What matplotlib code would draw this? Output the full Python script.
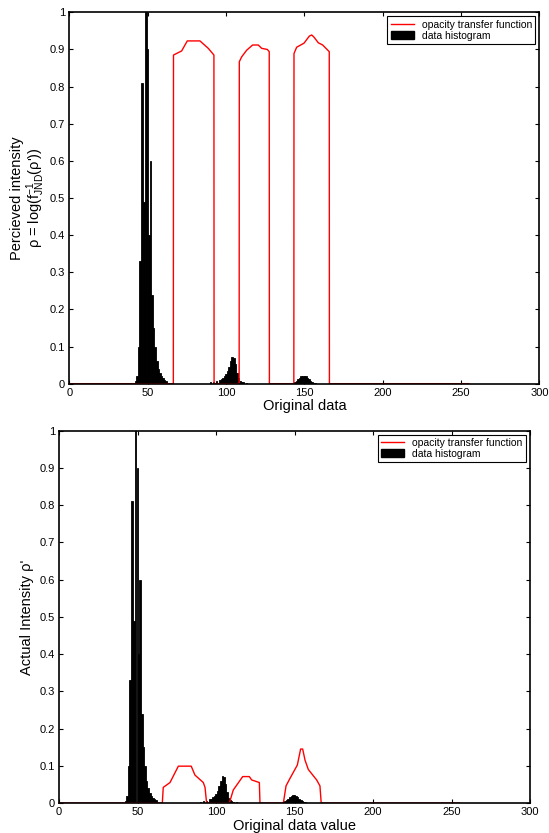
import numpy as np
import matplotlib.pyplot as plt
from matplotlib.patches import Patch
from matplotlib.lines import Line2D

plt.rcParams['font.family'] = ['Liberation Sans', 'DejaVu Sans']
plt.rcParams['mathtext.fontset'] = 'custom'
plt.rcParams['mathtext.rm'] = 'Liberation Sans'
plt.rcParams['mathtext.it'] = 'Liberation Sans'

# histogram of the original data (bin centre, normalised count)
hist_x = [42.3, 43.3, 44.4, 45.3, 46.4, 47.6, 48.8, 49.9, 50.8, 51.7, 52.8, 53.8,
          54.8, 55.8, 56.8, 57.8, 58.8, 59.8, 60.8, 61.8,
          90, 92, 94, 96, 97, 98, 99, 100, 101, 102, 103, 104, 105, 106, 107,
          108, 109, 110, 111, 113,
          143, 144, 145, 146, 147, 148, 149, 150, 151, 152, 153, 154, 155, 156, 157]
hist_y = [0.006, 0.02, 0.10, 0.33, 0.81, 0.49, 1.00, 0.90, 0.40, 0.60, 0.24, 0.15,
          0.10, 0.06, 0.04, 0.028, 0.02, 0.014, 0.01, 0.007,
          0.004, 0.005, 0.006, 0.01, 0.012, 0.015, 0.02, 0.025, 0.033, 0.045, 0.06,
          0.072, 0.07, 0.052, 0.03, 0.014, 0.008, 0.005, 0.004, 0.003,
          0.003, 0.005, 0.008, 0.012, 0.016, 0.02, 0.022, 0.022, 0.02, 0.016,
          0.012, 0.008, 0.005, 0.003, 0.002]

# opacity transfer function, perceived intensity (top)
otf_top_x = [0, 66.4, 66.5, 71.7, 75.3, 83.4, 88.7, 92.3, 92.4,
             108.4, 108.5, 110, 113.2, 117, 120.6, 122.8, 126.4, 127.6, 127.7,
             143.3, 143.4, 145.1, 149.8, 153.2, 154.7, 156.2, 158.9, 161.7, 165.9, 166.0,
             255]
otf_top_y = [0, 0, 0.885, 0.896, 0.923, 0.923, 0.903, 0.885, 0,
             0, 0.867, 0.88, 0.898, 0.912, 0.912, 0.903, 0.9, 0.894, 0,
             0, 0.889, 0.906, 0.917, 0.936, 0.939, 0.933, 0.918, 0.912, 0.894, 0,
             0]

# opacity transfer function, actual intensity (bottom)
otf_bot_x = [0, 65.8, 66.4, 70.7, 76, 84.2, 86.6, 91.9, 93, 94,
             108.5, 111, 117, 121.2, 122.7, 127.6, 128,
             142.9, 144.6, 147.1, 151.8, 153.9, 155.2, 156.7, 158.8, 164.1, 166.2, 167,
             255]
otf_bot_y = [0, 0, 0.042, 0.055, 0.099, 0.099, 0.075, 0.055, 0.042, 0,
             0, 0.035, 0.071, 0.071, 0.062, 0.055, 0,
             0, 0.046, 0.066, 0.102, 0.145, 0.145, 0.115, 0.09, 0.062, 0.046, 0,
             0]

fig = plt.figure(figsize=(5.49, 8.33), dpi=100)
ax1 = fig.add_axes([0.1262, 0.5394, 0.8563, 0.4458])
ax2 = fig.add_axes([0.1075, 0.0360, 0.8579, 0.4469])


def style(ax):
    ax.set_xlim(0, 300)
    ax.set_ylim(0, 1)
    ax.set_xticks(np.arange(0, 301, 50))
    ax.set_yticks(np.arange(0, 1.01, 0.1))
    ax.set_yticklabels(['0', '0.1', '0.2', '0.3', '0.4', '0.5', '0.6', '0.7',
                        '0.8', '0.9', '1'])
    ax.tick_params(direction='in', top=True, right=True, labelsize=8,
                   length=3, width=0.8, pad=3)
    for s in ax.spines.values():
        s.set_linewidth(1.2)
    handles = [Line2D([], [], color='red', lw=1),
               Patch(facecolor='black', edgecolor='black')]
    leg = ax.legend(handles, ['opacity transfer function', 'data histogram'],
                    loc='upper right', fontsize=7.5, fancybox=False,
                    framealpha=1, borderpad=0.3, labelspacing=0.1,
                    handlelength=2.2, handleheight=0.8, borderaxespad=0.4)
    leg.get_frame().set_edgecolor('black')
    leg.get_frame().set_linewidth(0.8)


ax1.bar(hist_x, hist_y, width=1.0, color='black', edgecolor='black', linewidth=0.6)
ax1.plot(otf_top_x, otf_top_y, color='red', lw=1)
style(ax1)
ax1.set_xlabel('Original data', fontsize=10.5, labelpad=1)
ax1.set_ylabel("Percieved intensity\nρ = log(f$^{-1}_{JND}$(ρ'))", fontsize=10.5,
               linespacing=1.0, labelpad=2)

ax2.bar(hist_x, hist_y, width=1.0, color='black', edgecolor='black', linewidth=0.6)
ax2.plot(otf_bot_x, otf_bot_y, color='red', lw=1)
style(ax2)
ax2.set_xlabel('Original data value', fontsize=10.5, labelpad=1)
ax2.set_ylabel("Actual Intensity ρ'", fontsize=10.5, labelpad=4)

fig.savefig('out.png', dpi=100)
